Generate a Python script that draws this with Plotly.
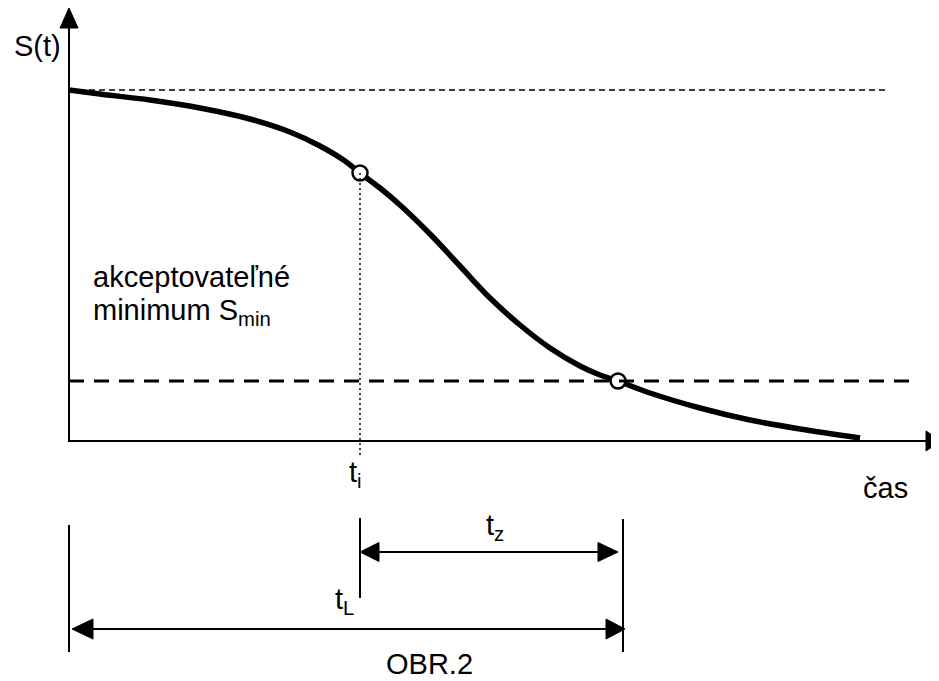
import plotly.graph_objects as go

# Curve S(t) (diagram coordinates: x to the right, y downward, as drawn)
curve_t = [69, 100, 150, 200, 250, 290, 320, 345, 360, 380, 400, 430, 460, 490, 520, 550, 580, 600, 618, 650, 700, 750, 800, 860]
curve_s = [90, 94, 100, 108, 119, 132, 146, 161, 173, 188, 205, 234, 266, 298, 325, 348, 366, 375, 381, 393, 408, 420, 429, 438]

t0 = 69          # origin of time axis
s0 = 441         # S = 0 level
s_start = 90     # initial level S(0)
s_min = 381      # acceptable minimum
t_i = 360        # inspection time
s_ti = 173       # S(t_i)
t_end = 618      # time where S reaches S_min
bottom_end = 623

fig = go.Figure()
BLACK = "black"
FONT = "Liberation Sans, Arial, sans-serif"

def line(x0, y0, x1, y1, w=2, dash=None):
    fig.add_shape(type="line", x0=x0, y0=y0, x1=x1, y1=y1, xref="x", yref="y",
                  line=dict(color=BLACK, width=w, dash=dash))

def tri(tip, base, half, orient):
    if orient == "up":
        p = f"M {tip[0]} {tip[1]} L {tip[0]-half} {base} L {tip[0]+half} {base} Z"
    else:
        p = f"M {tip[0]} {tip[1]} L {base} {tip[1]-half} L {base} {tip[1]+half} Z"
    fig.add_shape(type="path", path=p, xref="x", yref="y", fillcolor=BLACK, line=dict(color=BLACK, width=1))

# axes
line(t0, s0 + 1, t0, 26, w=2)
tri((t0, 8), 28, 9, "up")
line(t0, s0, 928, s0, w=2)
tri((941, s0), 926, 10, "right")

# reference lines
line(t0, s_start, 885, s_start, w=1.3, dash="6px,4px")
line(t0, s_min, 918, s_min, w=3, dash="15px,10px")
line(t_i, s_ti, t_i, 458, w=1.5, dash="2px,3px")

# curve
fig.add_trace(go.Scatter(x=curve_t, y=curve_s, mode="lines", line=dict(color=BLACK, width=5.5, shape="spline"),
                         hoverinfo="skip", showlegend=False))
fig.add_trace(go.Scatter(x=[t_i, t_end], y=[s_ti, s_min], mode="markers",
                         marker=dict(size=15, color="white", line=dict(color=BLACK, width=2.5)),
                         hoverinfo="skip", showlegend=False))

# bottom dimension lines
line(t0, 525, t0, 652, w=2)
line(t_i, 518, t_i, 598, w=2)
line(bottom_end, 519, bottom_end, 652, w=2)
line(t_i + 15, 552, t_end - 15, 552, w=2)
tri((t_i, 552), 379, 9.5, "left")
tri((t_end, 552), 598, 9.5, "right")
line(t0 + 20, 629, bottom_end - 15, 629, w=2)
tri((72, 629), 93, 10, "left")
tri((bottom_end + 2, 629), 606, 10, "right")

def text(x, y, s, xa="left", size=29):
    fig.add_annotation(x=x, y=y, xref="x", yref="y", text=s, showarrow=False,
                       xanchor=xa, yanchor="middle", font=dict(family=FONT, size=size, color=BLACK))

text(12, 46, "S(t)")
text(91, 277, "akceptovateľné")
text(91, 312, "minimum S<sub>min</sub>")
text(347, 474, "t<sub>i</sub>")
text(861, 488, "čas")
text(484, 527, "t<sub>z</sub>")
text(333, 601, "t<sub>L</sub>")
text(384, 664, "OBR.2")

# page body has an 8px margin: shift the axis ranges so that diagram pixels match the page
fig.update_layout(width=939, height=681, margin=dict(l=0, r=0, t=0, b=0),
                  paper_bgcolor="white", plot_bgcolor="white",
                  xaxis=dict(range=[8, 947], visible=False, fixedrange=True),
                  yaxis=dict(range=[689, 8], visible=False, fixedrange=True),
                  showlegend=False)
fig.write_html("out.html")
